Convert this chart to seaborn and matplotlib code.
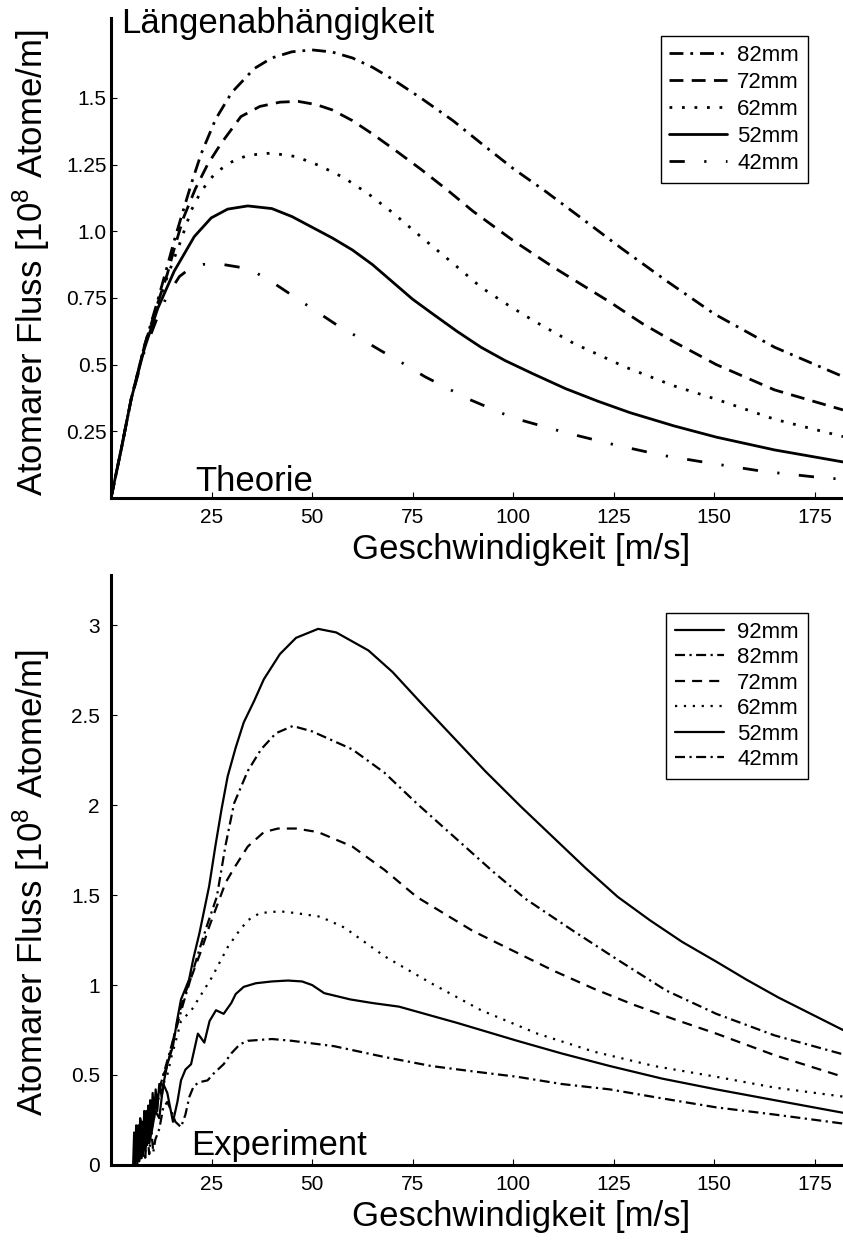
import matplotlib
matplotlib.use("Agg")
import matplotlib.pyplot as plt
import seaborn as sns

# Theorie (oben): Geschwindigkeit [m/s] / Fluss [1e8 Atome/m]
t82_x = [0, 2.5, 5, 8.3, 11.6, 14, 16, 18, 20, 22.4, 26, 30, 35.6, 40, 45, 50, 55, 60, 65, 70, 77, 85, 92, 100, 108, 116, 127, 138, 150, 165, 182]
t82_y = [0, 0.18, 0.37, 0.57, 0.74, 0.87, 0.98, 1.08, 1.18, 1.29, 1.42, 1.52, 1.61, 1.65, 1.673, 1.68, 1.672, 1.65, 1.615, 1.57, 1.5, 1.415, 1.33, 1.235, 1.15, 1.06, 0.935, 0.815, 0.69, 0.565, 0.455]
t72_x = [0, 2.5, 5, 8.3, 11.6, 14, 16, 18, 21, 24, 27.4, 32.3, 37, 42, 46.5, 51, 55, 60, 65, 71, 77, 84, 90, 100, 110, 117, 124, 132, 140, 150.5, 165, 182]
t72_y = [0, 0.18, 0.37, 0.57, 0.73, 0.84, 0.95, 1.05, 1.16, 1.25, 1.33, 1.43, 1.468, 1.484, 1.487, 1.475, 1.455, 1.415, 1.365, 1.3, 1.233, 1.15, 1.075, 0.965, 0.865, 0.8, 0.735, 0.655, 0.585, 0.5, 0.405, 0.33]
t62_x = [0, 2.5, 5, 8.3, 11.6, 14, 17, 20, 22.4, 26, 30, 34, 39.8, 46, 52, 58, 64, 70, 77, 85, 92, 98, 105, 115, 128, 140, 150.5, 165, 182]
t62_y = [0, 0.18, 0.37, 0.57, 0.72, 0.83, 0.95, 1.08, 1.15, 1.22, 1.26, 1.285, 1.293, 1.28, 1.245, 1.2, 1.14, 1.07, 0.98, 0.88, 0.79, 0.73, 0.665, 0.58, 0.49, 0.42, 0.37, 0.295, 0.23]
t52_x = [0, 2.5, 5, 8.3, 11.6, 15.7, 20.7, 24.9, 29, 34, 40, 45, 50, 55, 60, 65, 70, 75, 80, 86, 92, 98, 105, 113, 121, 129, 140, 150.5, 165, 182]
t52_y = [0, 0.18, 0.37, 0.56, 0.71, 0.85, 0.98, 1.05, 1.083, 1.095, 1.085, 1.055, 1.015, 0.975, 0.93, 0.875, 0.81, 0.745, 0.69, 0.625, 0.565, 0.515, 0.465, 0.41, 0.363, 0.32, 0.27, 0.228, 0.18, 0.135]
t42_x = [0, 2.5, 5, 8.3, 11.6, 14, 17, 20, 23, 28, 32, 36, 40, 45.5, 50, 56, 62, 67, 72, 78, 89, 100, 113, 125, 137, 150, 162, 176, 182]
t42_y = [0, 0.18, 0.37, 0.55, 0.68, 0.76, 0.83, 0.865, 0.876, 0.875, 0.865, 0.845, 0.81, 0.755, 0.71, 0.65, 0.598, 0.553, 0.51, 0.455, 0.37, 0.30, 0.245, 0.2, 0.16, 0.128, 0.10, 0.077, 0.07]

# Experiment (unten)
e92_x = [5.5, 5.75, 6, 6.25, 6.5, 6.75, 7, 7.25, 7.5, 7.75, 8, 8.25, 8.5, 8.75, 9, 9.25, 9.5, 9.75, 10, 10.35, 10.7, 11.1, 11.5, 12, 12.6, 13.2, 14, 15.4, 16.4, 17.4, 18.5, 19.4, 20.5, 22, 24.4, 26, 27.5, 29, 31, 33, 35.6, 38, 42, 46, 51.5, 56, 64, 70, 77, 85, 93, 102, 110, 118, 126, 134, 142, 150.5, 158, 166, 174, 182]
e92_y = [0.0, 0.18, 0.02, 0.22, 0.04, 0.2, 0.06, 0.26, 0.05, 0.24, 0.1, 0.3, 0.08, 0.28, 0.14, 0.33, 0.12, 0.36, 0.2, 0.4, 0.26, 0.42, 0.3, 0.45, 0.38, 0.47, 0.56, 0.66, 0.8, 0.92, 0.98, 1.03, 1.15, 1.29, 1.55, 1.78, 1.98, 2.16, 2.32, 2.46, 2.58, 2.7, 2.84, 2.93, 2.98, 2.96, 2.86, 2.74, 2.57, 2.38, 2.19, 1.99, 1.82, 1.65, 1.49, 1.36, 1.24, 1.13, 1.03, 0.93, 0.84, 0.75]
e82_x = [6, 6.5, 7, 7.5, 8, 8.5, 9, 9.5, 10, 11, 12, 13, 14, 16, 18, 20, 22, 24, 26.3, 28.5, 30.6, 34, 37.3, 41, 45.2, 50, 60, 68, 76, 85, 95, 103, 115, 126, 138, 150.5, 165, 182]
e82_y = [0.0, 0.14, 0.02, 0.2, 0.05, 0.22, 0.1, 0.28, 0.18, 0.33, 0.42, 0.5, 0.58, 0.74, 0.9, 1.05, 1.2, 1.34, 1.49, 1.78, 2.01, 2.19, 2.31, 2.4, 2.44, 2.41, 2.31, 2.18, 2.01, 1.83, 1.63, 1.48, 1.3, 1.14, 0.97, 0.84, 0.72, 0.615]
e72_x = [6, 6.5, 7, 7.5, 8, 8.5, 9, 9.5, 10, 11, 12, 13, 14, 15, 16, 17.4, 18.7, 19.9, 22.4, 24.5, 26.5, 28.5, 30.6, 34, 38, 41.5, 46, 51.5, 60, 68, 76, 90, 100, 110, 120, 130, 140, 150.5, 165, 182]
e72_y = [0.05, 0.2, 0.04, 0.24, 0.08, 0.28, 0.14, 0.32, 0.2, 0.36, 0.41, 0.5, 0.55, 0.65, 0.75, 0.88, 0.97, 1.04, 1.19, 1.33, 1.45, 1.57, 1.65, 1.77, 1.85, 1.87, 1.87, 1.85, 1.77, 1.64, 1.49, 1.3, 1.19, 1.08, 0.98, 0.89, 0.81, 0.73, 0.61, 0.49]
e62_x = [6.5, 7, 7.5, 8, 8.5, 9, 9.5, 10, 11, 12, 13, 14, 15, 16, 17.4, 20, 22.5, 25, 29, 31.5, 34, 37, 42, 46, 52, 58, 68, 79.6, 92, 106, 120, 135, 150.5, 165, 182]
e62_y = [0.02, 0.16, 0.04, 0.21, 0.07, 0.25, 0.12, 0.3, 0.33, 0.38, 0.45, 0.5, 0.6, 0.68, 0.8, 0.86, 0.95, 1.04, 1.21, 1.29, 1.36, 1.40, 1.41, 1.40, 1.38, 1.32, 1.16, 1.01, 0.86, 0.73, 0.63, 0.55, 0.49, 0.43, 0.38]
e52_x = [6, 6.25, 6.5, 6.75, 7, 7.25, 7.5, 7.75, 8, 8.25, 8.5, 8.75, 9, 9.5, 10, 11, 12, 13, 14, 15.4, 16.5, 17.4, 18.5, 19.9, 21.6, 23.2, 24.5, 26.1, 28, 29.9, 31, 33, 36, 40, 44, 47.5, 50, 53, 59.5, 65, 71.6, 86, 101, 112, 124, 137, 150.5, 165, 182]
e52_y = [0.0, 0.2, 0.03, 0.22, 0.06, 0.25, 0.04, 0.21, 0.09, 0.27, 0.1, 0.3, 0.13, 0.32, 0.17, 0.3, 0.26, 0.45, 0.4, 0.24, 0.35, 0.47, 0.53, 0.56, 0.73, 0.68, 0.8, 0.86, 0.84, 0.9, 0.95, 0.99, 1.01, 1.02, 1.025, 1.02, 1.0, 0.955, 0.92, 0.9, 0.88, 0.79, 0.69, 0.62, 0.55, 0.48, 0.42, 0.36, 0.29]
e42_x = [6.5, 7, 7.5, 8, 8.5, 9, 9.5, 10, 10.5, 11, 12, 13, 14, 15, 16, 17.4, 18.5, 19.5, 20.6, 22, 24, 25.6, 28, 29.9, 32, 34, 40, 45, 55.5, 68, 79.6, 90, 101, 112, 124, 137, 150.5, 165, 182]
e42_y = [0.0, 0.12, 0.02, 0.16, 0.04, 0.18, 0.06, 0.2, 0.07, 0.14, 0.2, 0.32, 0.35, 0.3, 0.24, 0.21, 0.28, 0.38, 0.44, 0.46, 0.47, 0.51, 0.56, 0.62, 0.67, 0.69, 0.70, 0.69, 0.66, 0.6, 0.55, 0.52, 0.49, 0.45, 0.42, 0.37, 0.32, 0.28, 0.23]

x_ticks = [25, 50, 75, 100, 125, 150, 175]
top_yticks = [0.25, 0.5, 0.75, 1.0, 1.25, 1.5]
top_ylabels = ["0.25", "0.5", "0.75", "1.0", "1.25", "1.5"]
bot_yticks = [0, 0.5, 1, 1.5, 2, 2.5, 3]
bot_ylabels = ["0", "0.5", "1", "1.5", "2", "2.5", "3"]

sns.set_theme(style="ticks")
plt.rcParams["font.family"] = ["Liberation Sans", "DejaVu Sans"]
plt.rcParams["mathtext.default"] = "regular"
plt.rcParams["xtick.direction"] = "in"
plt.rcParams["ytick.direction"] = "in"
for k in ["text.color", "axes.labelcolor", "xtick.color", "ytick.color", "axes.edgecolor"]:
    plt.rcParams[k] = "black"

fig = plt.figure(figsize=(8.43, 12.43), dpi=100)
ax1 = fig.add_axes([0.1317, 0.5994, 0.8683, 0.3862])
ax2 = fig.add_axes([0.1317, 0.0628, 0.8683, 0.4747])

top_series = [
    ("82mm", t82_x, t82_y, (0, (5, 2.5, 1, 2.5))),
    ("72mm", t72_x, t72_y, (0, (5, 3))),
    ("62mm", t62_x, t62_y, (0, (1, 3.5))),
    ("52mm", t52_x, t52_y, "-"),
    ("42mm", t42_x, t42_y, (0, (5.5, 7, 0.8, 7))),
]
for lab, xs, ys, ls in top_series:
    sns.lineplot(x=xs, y=ys, ax=ax1, color="black", lw=2, linestyle=ls,
                 label=lab, estimator=None, sort=False)

bot_series = [
    ("92mm", e92_x, e92_y, "-"),
    ("82mm", e82_x, e82_y, (0, (4.5, 2, 1, 2))),
    ("72mm", e72_x, e72_y, (0, (4.5, 3.2))),
    ("62mm", e62_x, e62_y, (0, (1, 3))),
    ("52mm", e52_x, e52_y, "-"),
    ("42mm", e42_x, e42_y, (0, (4.5, 2, 1, 2))),
]
for lab, xs, ys, ls in bot_series:
    sns.lineplot(x=xs, y=ys, ax=ax2, color="black", lw=1.6, linestyle=ls,
                 label=lab, estimator=None, sort=False)

ylab = "Atomarer Fluss [10$^{8}$ Atome/m]"
for ax in (ax1, ax2):
    sns.despine(ax=ax)
    ax.spines["left"].set_linewidth(2.2)
    ax.spines["bottom"].set_linewidth(2.2)
    ax.set_xlim(0, 182)
    ax.set_xticks(x_ticks)
    ax.set_xticklabels([str(t) for t in x_ticks])
    ax.tick_params(axis="both", labelsize=15, length=4.5, width=0.8, color="black")
    ax.tick_params(axis="x", pad=7)
    ax.set_xlabel("Geschwindigkeit [m/s]", fontsize=25)
    ax.set_ylabel(ylab, fontsize=25)
    ax.set_facecolor("white")

ax1.set_ylim(0, 1.8)
ax1.set_yticks(top_yticks)
ax1.set_yticklabels(top_ylabels)
ax1.tick_params(axis="y", pad=3)
ax1.xaxis.set_label_coords(0.56, -0.072)
ax1.yaxis.set_label_coords(-0.08, 0.49)

ax2.set_ylim(0, 3.28)
ax2.set_yticks(bot_yticks)
ax2.set_yticklabels(bot_ylabels)
ax2.tick_params(axis="y", pad=8)
ax2.xaxis.set_label_coords(0.56, -0.059)
ax2.yaxis.set_label_coords(-0.08, 0.478)

ax1.text(0.014, 0.968, "Längenabhängigkeit", transform=ax1.transAxes,
         fontsize=25, va="baseline", ha="left")
ax1.text(21, 0.025, "Theorie", fontsize=25, va="baseline", ha="left")
ax2.text(20, 0.055, "Experiment", fontsize=25, va="baseline", ha="left")

leg1 = ax1.legend(loc="upper right", bbox_to_anchor=(0.952, 0.9625), borderaxespad=0,
                  fontsize=16, handlelength=2.6, handletextpad=0.45, labelspacing=0.27,
                  fancybox=False, framealpha=1, edgecolor="black", borderpad=0.4)
leg1.get_frame().set_linewidth(1.0)
leg2 = ax2.legend(loc="upper right", bbox_to_anchor=(0.952, 0.9356), borderaxespad=0,
                  fontsize=16, handlelength=2.2, handletextpad=0.6, labelspacing=0.2,
                  fancybox=False, framealpha=1, edgecolor="black", borderpad=0.4)
leg2.get_frame().set_linewidth(1.0)

fig.savefig("out.png", dpi=100, facecolor="white")
